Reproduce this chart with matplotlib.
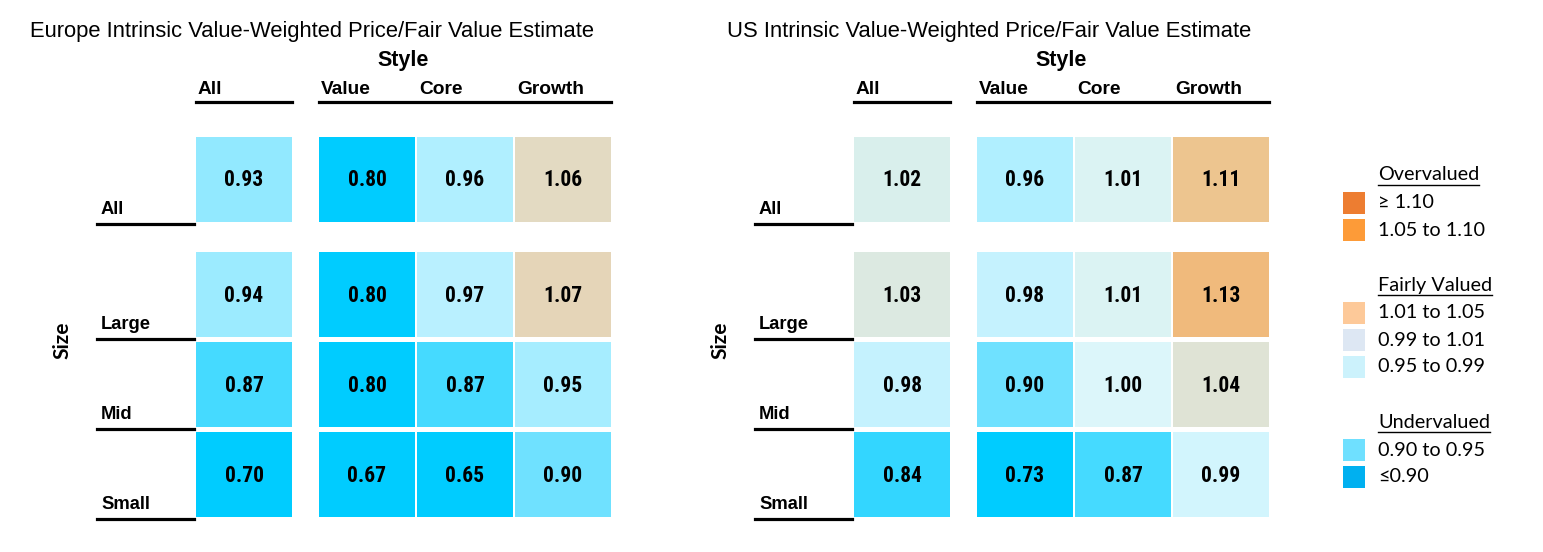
import matplotlib.pyplot as plt
import matplotlib.patches as mpatches
from matplotlib import font_manager
from matplotlib.colors import LinearSegmentedColormap, Normalize

# ---- data ----
styles = ["All", "Value", "Core", "Growth"]
sizes = ["All", "Large", "Mid", "Small"]

europe_title = "Europe Intrinsic Value-Weighted Price/Fair Value Estimate"
europe = [
    [0.93, 0.80, 0.96, 1.06],
    [0.94, 0.80, 0.97, 1.07],
    [0.87, 0.80, 0.87, 0.95],
    [0.70, 0.67, 0.65, 0.90],
]

us_title = "US Intrinsic Value-Weighted Price/Fair Value Estimate"
us = [
    [1.02, 0.96, 1.01, 1.11],
    [1.03, 0.98, 1.01, 1.13],
    [0.98, 0.90, 1.00, 1.04],
    [0.84, 0.73, 0.87, 0.99],
]

legend_groups = ["Overvalued", "Fairly Valued", "Undervalued"]
legend_labels = [["\u2265 1.10", "1.05 to 1.10"],
                 ["1.01 to 1.05", "0.99 to 1.01", "0.95 to 0.99"],
                 ["0.90 to 0.95", "\u22640.90"]]
legend_colors = [["#ED7D31", "#FD9B38"],
                 ["#FDC999", "#DDE7F3", "#CCF2FC"],
                 ["#6FE0FF", "#00B0F0"]]

# colour scale used in the cells
lo, hi = 0.80, 1.13
stops = [(0.80, "#00CCFF"), (0.84, "#33D6FF"), (0.87, "#45DAFF"),
         (0.90, "#6FE1FF"), (0.93, "#93E9FF"), (0.95, "#A6EDFF"),
         (0.97, "#B9F0FF"), (0.99, "#D2F5FD"), (1.00, "#DCF6FA"),
         (1.02, "#D9EFEC"), (1.04, "#DFE3D6"), (1.07, "#E5D5B8"),
         (1.11, "#EDC590"), (1.13, "#F0BA7C")]
cmap = LinearSegmentedColormap.from_list(
    "pfv", [((v - lo) / (hi - lo), c) for v, c in stops])
norm = Normalize(lo, hi, clip=True)

# pick a condensed face for the numbers if one is there
installed = {f.name for f in font_manager.fontManager.ttflist}
narrow_name = None
for name in ["Liberation Sans Narrow", "Arial Narrow", "Roboto Condensed",
             "DejaVu Sans Condensed", "Noto Sans Condensed", "Open Sans Condensed"]:
    if name in installed:
        narrow_name = name
        break
if narrow_name:
    num_font, num_size = [narrow_name, "DejaVu Sans"], 15.5
else:
    num_font, num_size = ["Liberation Sans", "DejaVu Sans"], 14

# ---- figure ----
W, H = 1543, 552
fig = plt.figure(figsize=(W / 100, H / 100), dpi=100)
ax = fig.add_axes([0, 0, 1, 1])
ax.set_xlim(0, W)
ax.set_ylim(H, 0)
ax.axis("off")

arial = ["Liberation Sans", "DejaVu Sans"]

cell_w, cell_h = 96, 85
col_left = [196, 319, 417, 515]
row_top = [137, 252, 342, 432]


def draw_panel(dx, title_x, title, data):
    ax.text(title_x, 37, title, fontsize=15.85, family=arial, va="baseline")
    ax.text((col_left[0] + col_left[3] + cell_w) / 2 + dx, 66, "Style",
            fontsize=15.5, family=arial, weight="bold", ha="center", va="baseline")
    for j, s in enumerate(styles):
        ax.text(col_left[j] + 2 + dx, 94, s, fontsize=13.8, family=arial,
                weight="bold", va="baseline")
    ax.plot([col_left[0] + dx, col_left[0] + cell_w + dx], [102, 102], color="black", lw=2.3)
    ax.plot([col_left[1] + dx, col_left[3] + cell_w + dx], [102, 102], color="black", lw=2.3)
    ax.text(62 + dx, 340, "Size", fontsize=15, family=["Lato", "DejaVu Sans"],
            weight="bold", rotation=90, ha="center", va="center")
    for i, r in enumerate(sizes):
        bottom = row_top[i] + cell_h
        ax.text(101 + dx, bottom - 8, r, fontsize=13.2, family=arial,
                weight="bold", va="baseline")
        ax.plot([97 + dx, 194 + dx], [bottom + 1.5, bottom + 1.5], color="black", lw=2.3)
        for j in range(len(styles)):
            v = data[i][j]
            ax.add_patch(mpatches.Rectangle((col_left[j] + dx, row_top[i]), cell_w, cell_h,
                                            facecolor=cmap(norm(v)), edgecolor="none"))
            ax.text(col_left[j] + cell_w / 2 + dx, row_top[i] + cell_h / 2 + 1, f"{v:.2f}",
                    fontsize=num_size, family=num_font, weight="bold",
                    ha="center", va="center")


draw_panel(0, 30, europe_title, europe)
draw_panel(658, 727, us_title, us)

# ---- legend ----
leg_font = ["Lato", "DejaVu Sans"]
fig.canvas.draw()
renderer = fig.canvas.get_renderer()
y = 175
for g, labels, colors in zip(legend_groups, legend_labels, legend_colors):
    t = ax.text(1378, y, g, fontsize=14.3, family=leg_font, va="center")
    bb = t.get_window_extent(renderer)
    x0, _ = ax.transData.inverted().transform((bb.x0, bb.y0))
    x1, _ = ax.transData.inverted().transform((bb.x1, bb.y0))
    ax.plot([x0, x1], [y + 10, y + 10], color="black", lw=1)
    y += 28
    for lab, c in zip(labels, colors):
        ax.add_patch(mpatches.Rectangle((1343, y - 11), 22, 22, facecolor=c, edgecolor="none"))
        ax.text(1378, y, lab, fontsize=14.3, family=leg_font, va="center")
        y += 27
    y += 28

fig.savefig("out.png", dpi=100)
